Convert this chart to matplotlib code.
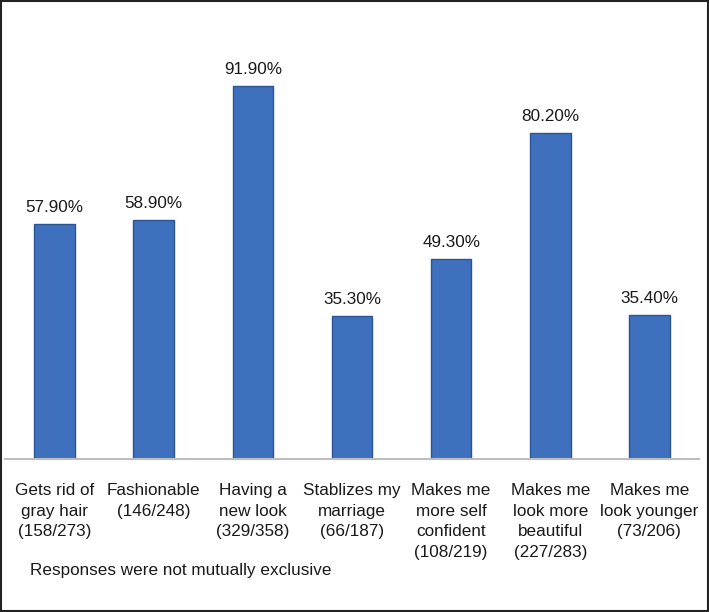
import matplotlib
matplotlib.use('Agg')
import matplotlib.pyplot as plt
from matplotlib.patches import Rectangle

categories = ['Gets rid of\ngray hair\n(158/273)', 'Fashionable\n(146/248)',
              'Having a\nnew look\n(329/358)', 'Stablizes my\nmarriage\n(66/187)',
              'Makes me\nmore self\nconfident\n(108/219)',
              'Makes me\nlook more\nbeautiful\n(227/283)',
              'Makes me\nlook younger\n(73/206)']
percents = [57.9, 58.9, 91.9, 35.3, 49.3, 80.2, 35.4]
note = 'Responses were not mutually exclusive'

plt.rcParams['font.family'] = ['Liberation Sans', 'DejaVu Sans']

fig = plt.figure(figsize=(7.09, 6.12), dpi=100)
ax = fig.add_axes([5 / 709, 153 / 612, 694 / 709, 406 / 612])

x = list(range(len(categories)))
ax.bar(x, percents, width=0.41, color='#3E70BE', edgecolor='#2B5492', linewidth=1.0)

for xi, p in zip(x, percents):
    ax.text(xi, p + 2.2, '%.2f%%' % p, ha='center', va='bottom', fontsize=12.3, color='#1a1a1a')

ax.set_xlim(-0.5, len(categories) - 0.5)
ax.set_ylim(0, 100)
ax.set_yticks([])
ax.set_xticks(x)
ax.set_xticklabels(categories, fontsize=12.3, color='#1a1a1a', linespacing=1.45)
ax.tick_params(axis='x', length=0, pad=17.5)
for s in ['top', 'left', 'right']:
    ax.spines[s].set_visible(False)
ax.spines['bottom'].set_color('#BDBDBD')
ax.spines['bottom'].set_linewidth(1.5)

fig.text(30 / 709, 1 - 570 / 612, note, ha='left', va='center', fontsize=12.3, color='#1a1a1a')

fig.patches.append(Rectangle((0.001, 0.002), 0.997, 0.996, transform=fig.transFigure,
                             fill=False, edgecolor='#222222', linewidth=1.5))

fig.savefig('out.png', dpi=100)
